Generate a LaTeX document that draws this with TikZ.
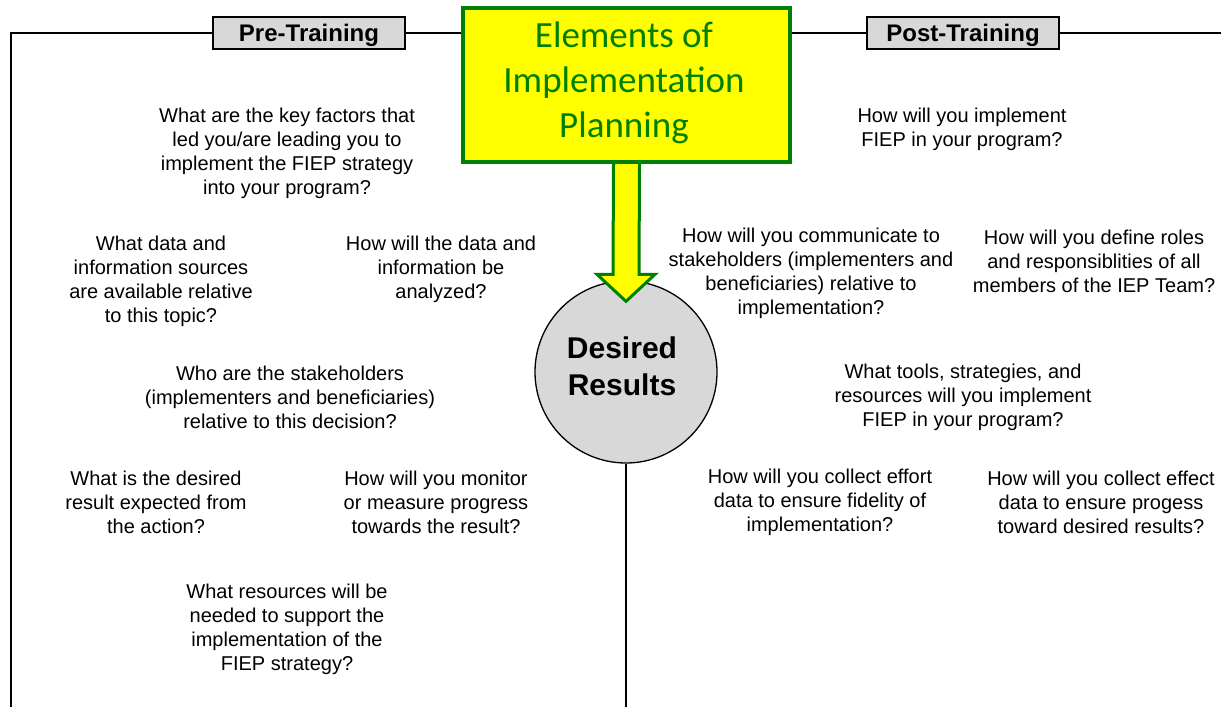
\documentclass[tikz,border=0pt]{standalone}
\usepackage{fontspec}
\setmainfont{Liberation Sans}
\newfontfamily\titlefont{Carlito}
\usetikzlibrary{calc}
\definecolor{dgreen}{RGB}{0,128,0}
\definecolor{boxgray}{RGB}{216,216,216}
\definecolor{tyellow}{RGB}{255,255,0}
\begin{document}
\begin{tikzpicture}[x=1pt,y=-1pt,
  q/.style={align=center,font=\fontsize{20}{24}\selectfont,inner sep=0pt,yshift=-2pt},
  hdr/.style={draw=black,line width=1.5pt,fill=boxgray,minimum width=192pt,minimum height=32pt,inner sep=0pt,text height=21pt,text depth=5pt,font=\fontsize{24}{26}\selectfont\bfseries},
  frame/.style={draw=black,line width=1.3pt}]
\useasboundingbox (0,0) rectangle (1221,707);
% headers
\node[hdr] (pre) at (309,33) {Pre-Training};
\node[hdr] (post) at (963,33) {Post-Training};
% title
\node[draw=dgreen,line width=4pt,fill=tyellow,minimum width=327pt,minimum height=154pt,inner sep=0pt] (title) at (626.5,85) {};
\node[align=center,text=dgreen,font=\titlefont\fontsize{37}{45}\selectfont,inner sep=0pt] (titletext) at (624,83) {Elements of\\Implementation\\Planning};
% circle
\node[circle,draw=black,line width=1.3pt,fill=boxgray,minimum size=182pt,inner sep=0pt] (res) at (626,372) {};
\node[align=center,font=\fontsize{30}{37}\selectfont\bfseries,inner sep=0pt] (restext) at (622,366.5) {Desired\\Results};
% frame lines
\coordinate (tl) at (11,33);
\coordinate (bl) at (11,707);
\coordinate (tr) at (1221,33);
\coordinate (bm) at (626,707);
\draw[frame] (pre.west) -- (tl) -- (bl);
\draw[frame] (pre.east) -- (title.west |- pre.east);
\draw[frame] (title.east |- post.west) -- (post.west);
\draw[frame] (post.east) -- (tr);
\draw[frame] (res.south) -- (bm);
% arrow
\draw[draw=dgreen,fill=tyellow,line width=3pt,line join=miter]
  ($(title.south)+(-13,0)$) -- ($(res.north)+(-13,-6)$) -- ($(res.north)+(-29,-6)$)
  -- ($(res.north)+(0,21)$) -- ($(res.north)+(29,-6)$) -- ($(res.north)+(13,-6)$)
  -- ($(title.south)+(13,0)$);
% pre-training questions
\node[q] (q1) at (287,151) {What are the key factors that\\led you/are leading you to\\implement the FIEP strategy\\into your program?};
\node[q] (q2) at (161,279) {What data and\\information sources\\are available relative\\to this topic?};
\node[q] (q3) at (441,267) {How will the data and\\information be\\analyzed?};
\node[q] (q4) at (290,395) {Who are the stakeholders\\(implementers and beneficiaries)\\relative to this decision?};
\node[q] (q5) at (156,500) {What is the desired\\result expected from\\the action?};
\node[q] (q6) at (436,500) {How will you monitor\\or measure progress\\towards the result?};
\node[q] (q7) at (287,627) {What resources will be\\needed to support the\\implementation of the\\FIEP strategy?};
% post-training questions
\node[q] (p1) at (962,127) {How will you implement\\FIEP in your program?};
\node[q] (p2) at (811,271) {How will you communicate to\\stakeholders (implementers and\\beneficiaries) relative to\\implementation?};
\node[q] (p3) at (1094,259) {How will you define roles\\and responsiblities of all\\members of the IEP Team?};
\node[q] (p4) at (963,395) {What tools, strategies, and\\resources will you implement\\FIEP in your program?};
\node[q] (p5) at (820,500) {How will you collect effort\\data to ensure fidelity of\\implementation?};
\node[q] (p6) at (1101,500) {How will you collect effect\\data to ensure progess\\toward desired results?};
\end{tikzpicture}
\end{document}
